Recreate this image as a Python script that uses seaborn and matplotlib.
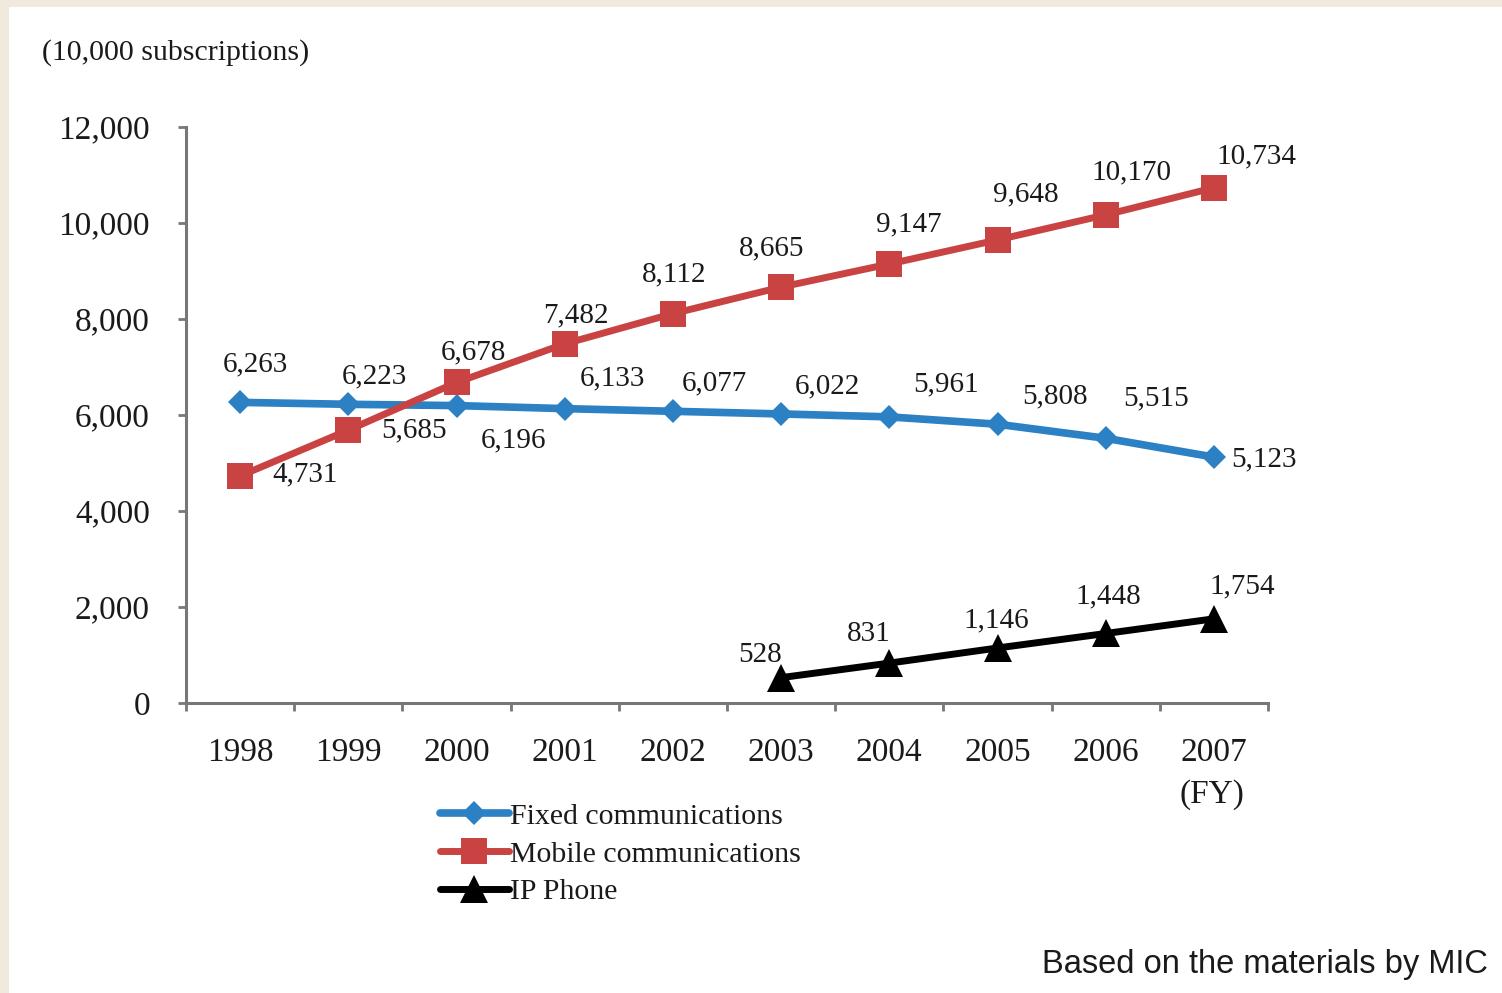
import numpy as np
import pandas as pd
import matplotlib
matplotlib.use("Agg")
import matplotlib.pyplot as plt
from matplotlib.patches import Rectangle
import seaborn as sns

# Subscriptions (10,000 units) by fiscal year
years = ["1998", "1999", "2000", "2001", "2002", "2003", "2004", "2005", "2006", "2007"]
fixed = [6263, 6223, 6196, 6133, 6077, 6022, 5961, 5808, 5515, 5123]
mobile = [4731, 5685, 6678, 7482, 8112, 8665, 9147, 9648, 10170, 10734]
ip_phone = [np.nan, np.nan, np.nan, np.nan, np.nan, 528, 831, 1146, 1448, 1754]
series_names = ["Fixed communications", "Mobile communications", "IP Phone"]
y_ticks = [0, 2000, 4000, 6000, 8000, 10000, 12000]

# Label offsets (pixels) relative to each point
fixed_off = [(15, 38), (26, 28), (57, -35), (48, 30), (41, 28), (46, 28), (57, 32), (57, 28), (50, 40), (50, -2)]
mobile_off = [(65, 2), (66, 0), (17, 30), (11, 28), (1, 39), (-9, 39), (20, 40), (28, 46), (26, 42), (43, 31)]
ip_off = [None] * 5 + [(-21, 23), (-21, 29), (-1, 28), (3, 37), (28, 32)]

sns.set_theme(style="white")
serif = ["Liberation Serif", "DejaVu Serif"]
plt.rcParams["font.family"] = serif

W, H = 1502, 993
fig = plt.figure(figsize=(W / 100, H / 100), dpi=100)
fig.patch.set_facecolor("#F1E9DD")
fig.add_artist(Rectangle((9 / W, 0), 1 - 9 / W, 1 - 7 / H, transform=fig.transFigure,
                         facecolor="white", edgecolor="none", zorder=0))

ax = fig.add_axes([186 / W, 1 - 703 / H, (1268 - 186) / W, (703 - 127) / H])
ax.set_facecolor("none")

pos = np.arange(len(years))
df = pd.DataFrame({
    "pos": np.tile(pos, 3),
    "value": fixed + mobile + ip_phone,
    "series": np.repeat(series_names, len(years)),
})

styles = {
    "Fixed communications": dict(color="#2C80C4", marker="D", markersize=12, lw=5.5),
    "Mobile communications": dict(color="#C94343", marker="s", markersize=18.5, lw=5),
    "IP Phone": dict(color="#000000", marker="^", markersize=19.5, lw=5),
}
for name in series_names:
    sub = df[df["series"] == name].dropna()
    st = styles[name]
    sns.lineplot(data=sub, x="pos", y="value", ax=ax, color=st["color"], linewidth=st["lw"],
                 marker=st["marker"], markersize=st["markersize"], markeredgewidth=0,
                 label=name, legend=False)

# Value labels
for vals, offs in [(fixed, fixed_off), (mobile, mobile_off), (ip_phone, ip_off)]:
    for x, v, o in zip(pos, vals, offs):
        if o is None or np.isnan(v):
            continue
        ax.annotate(f"{int(v):,}", (x, v), xytext=o, textcoords="offset pixels",
                    ha="center", va="center", fontsize=21, color="#1a1a1a")

ax.set_xlim(-0.5, len(years) - 0.5)
ax.set_ylim(0, 12000)
ax.set_yticks(y_ticks)
ax.set_yticklabels([f"{v:,}" for v in y_ticks])
ax.set_xticks(pos)
ax.set_xticklabels(years)
ax.set_xticks(np.arange(-0.5, len(years), 1.0), minor=True)
ax.tick_params(axis="x", which="major", length=0, pad=25, labelsize=24, labelcolor="#1a1a1a")
ax.tick_params(axis="x", which="minor", length=6, width=2, color="#777777", direction="out", bottom=True)
ax.tick_params(axis="y", length=6, width=2, color="#777777", direction="out", left=True,
               pad=20, labelsize=24, labelcolor="#1a1a1a")
ax.set_xlabel("")
ax.set_ylabel("")
for s in ["top", "right"]:
    ax.spines[s].set_visible(False)
for s in ["left", "bottom"]:
    ax.spines[s].set_color("#777777")
    ax.spines[s].set_linewidth(2.2)

fig.text(42 / W, 1 - 53 / H, "(10,000 subscriptions)", ha="left", va="center",
         fontsize=21.5, color="#1a1a1a")
fig.text(1212 / W, 1 - 795 / H, "(FY)", ha="center", va="center", fontsize=24, color="#1a1a1a")

handles, labels = ax.get_legend_handles_labels()
leg = fig.legend(handles, labels, loc="upper left", bbox_to_anchor=(440 / W, 1 - 803 / H),
                 frameon=False, fontsize=21.5, handlelength=2.3, handletextpad=0.05,
                 labelspacing=0.36, borderpad=0, borderaxespad=0)
for t in leg.get_texts():
    t.set_color("#1a1a1a")

fig.text(1488 / W, 1 - 965 / H, "Based on the materials by MIC", ha="right", va="center",
         fontsize=23.5, family=["Liberation Sans", "DejaVu Sans"], color="#1a1a1a")

fig.savefig("out.png", dpi=100, facecolor=fig.get_facecolor())
